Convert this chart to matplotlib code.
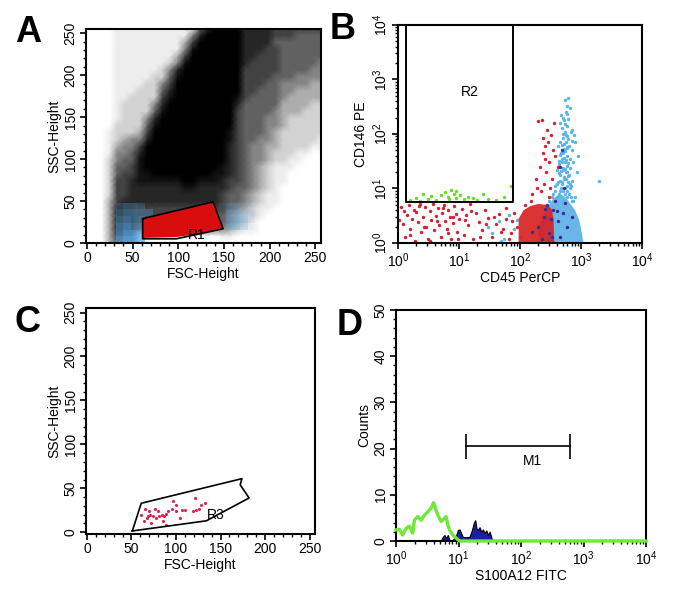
import numpy as np
import matplotlib.pyplot as plt
from matplotlib.colors import ListedColormap, BoundaryNorm, LinearSegmentedColormap
from matplotlib.patches import Polygon
from matplotlib.ticker import MultipleLocator, LogLocator, NullFormatter

plt.rcParams['font.family'] = ['Liberation Sans', 'DejaVu Sans']
plt.rcParams['mathtext.default'] = 'regular'

#%% panel A: FSC/SSC density, 8-channel cells, rows from top (248-256) to bottom (0-8), level 0-9
scatter_rows = [
    "0000 11111111111 5 7 9999 7777 6666666",
    "0000 1111111111 4 7 99999 7777 6665555",
    "0000 111111111 3 6 999999 7777 5555555",
    "0000 111111111 4 8 999999 77766 555555",
    "0000 11111111 3 6 9999999 77666 555555",
    "0000 11111112 4 8 9999999 76666 555554",
    "0000 1111112 4 7 99999999 66666 555544",
    "0000 1111122 5 8 99999999 66665 554444",
    "0000 111122 4 6 999999999 66655 444433",
    "0000 111222 5 7 999999999 66555 443333",
    "0000 112222 6 899999999 8 65555 433333",
    "0000 12222 4 7 999999999 7 55555 333322",
    "0000 12222 5 8 999999999 6 55554 333222",
    "0000 1222 4 7 9999999999 6 55544 322222",
    "0000 2222 5 8 9999999999 6 55544 322222",
    "0001 2223 6 9999999999 8 6 55543 222222",
    "0001 2344 7 9999999999 8 6 55443 222221",
    "0001 344 6 99999999999 7 6 54433 222211",
    "0001 445 7 99999999999 7 6 54432 221100",
    "0002 455 8 99999999999 7 6 54432 211000",
    "0002 556 8 99999999998 7 6 54321 110000",
    "0002 566 88999999998 8 7 6 54321 100000",
    "0002 667 88888899888 7 6 6 54321 100000",
    "0002 667 77777788777 7 6 5 54321 000000",
    "0002 667 77777777777 6 5 5 43211 000000",
    "0003 677 77777777777 6 5 5 43211 000000",
    "0003 777 66666666666 6 5 4 32110 000000",
    "0003 777 66666666665 5 4 3 22100 000000",
    "0003 777 66666666665 5 4 3 21000 000000",
    "0003 777 55555555554 4 3 2 11000 000000",
    "0003 666 00000000000 1 1 0 00000 000000",
    "0003 555 00000000000 0 0 0 00000 000000",
]
# blue events near the bottom, rows y 40-48 down to 0-8
blue_rows = [
    "0000 2332 0000000000 1221 0000000000",
    "0000 3443 3000000000 0332 1000000000",
    "0000 4544 0000000000 0343 1000000000",
    "0000 5655 0000000000 0332 0000000000",
    "0000 5776 0000000000 0000 0000000000",
    "0000 6887 0000000000 0000 0000000000",
]
r1_fill_x = [61, 138, 149, 122, 98, 61]
r1_fill_y = [29, 49, 18, 11, 7, 6]
r1_gate_x = [61, 138, 149, 98, 61, 61]
r1_gate_y = [29, 49, 17, 5, 5, 29]

#%% panel B: CD45 vs CD146
r2_x = [1.35, 1.35, 76, 76]
r2_y = [1e4, 5.6, 5.6, 1e4]
green_x = [1.6, 2.0, 2.3, 2.6, 3.1, 3.5, 4.2, 5.0, 5.8, 6.5, 6.9, 7.5, 8.2, 8.8, 9.0,
           10.5, 12, 14, 17, 20, 25, 30, 40, 55, 70]
green_y = [6.2, 6.8, 6.0, 7.9, 6.5, 7.2, 6.1, 7.5, 8.6, 7.0, 6.3, 9.3, 8.0, 9.0, 6.8,
           7.6, 6.3, 7.0, 6.6, 6.2, 7.8, 6.4, 6.1, 7.0, 11]
red_x = [1.1, 1.2, 1.3, 1.4, 1.5, 1.6, 1.7, 1.8, 1.9, 2.0, 2.1, 2.3, 2.4, 2.6, 2.8, 2.9,
         3.1, 3.3, 3.5, 3.7, 3.9, 4.2, 4.5, 4.7, 5.0, 5.3, 5.6, 5.9, 6.3, 6.7, 7.0, 7.4,
         7.9, 8.3, 8.8, 9.4, 10, 11, 12, 13, 14, 15, 17, 19, 21, 24, 27, 30, 35, 40, 45,
         52, 60, 70, 80, 90,
         1.05, 1.25, 1.6, 2.2, 2.7, 3.4, 4.4, 5.5, 6.5, 8.0, 9.8, 12.5, 16, 22, 28, 38,
         48, 58, 66, 75,
         200, 230, 260, 280, 240, 300, 320, 270, 210, 350, 330, 380, 250, 290, 310, 360,
         180, 420, 150, 120, 160, 220, 260, 300, 190, 240]
red_y = [4.5, 2.2, 1.3, 3.3, 5.0, 1.8, 2.8, 4.1, 1.1, 3.7, 2.4, 5.2, 1.6, 3.0, 4.6, 2.0,
         1.2, 3.8, 2.6, 5.3, 1.7, 3.1, 4.4, 2.1, 1.3, 3.5, 5.0, 2.5, 1.8, 4.0, 3.0, 1.2,
         2.3, 4.8, 3.4, 1.6, 2.8, 4.2, 1.4, 3.2, 2.1, 5.1, 1.2, 3.6, 2.4, 1.7, 4.0, 2.9,
         1.3, 2.2, 3.4, 1.8, 2.7, 1.5, 3.6, 2.0,
         2.6, 3.9, 1.4, 4.8, 2.0, 1.1, 2.5, 4.3, 1.5, 3.0, 1.2, 2.6, 3.8, 1.3, 2.2, 3.0,
         1.6, 4.4, 1.2, 2.5,
         170, 180, 60, 120, 45, 30, 95, 20, 25, 50, 15, 40, 12, 70, 10, 160,
         15, 25, 6, 5, 8, 9, 35, 7, 10, 85]
blue_x = [300, 350, 400, 450, 500, 550, 600, 700, 800, 380, 420, 480, 520, 580, 650,
          460, 500, 560, 620, 700, 440, 480, 540, 600, 660, 470, 520, 580, 640, 700,
          450, 500, 560, 620, 680, 480, 540, 600, 700, 500, 560, 620, 800, 900, 2000,
          750, 850, 540, 580, 460, 420, 400, 650, 720, 615,
          330, 370, 430, 470, 510, 550, 590, 630, 680, 740, 410, 450, 490, 530, 570,
          610, 650, 690, 430, 470, 510, 550, 590, 630, 440, 490, 530, 570, 610, 460,
          510, 550, 590, 480, 520, 560, 600, 500, 540, 580, 520, 470, 600, 660, 760,
          35, 45, 55, 65, 80, 90, 100, 48, 30]
blue_y = [6, 8, 7, 9, 6, 8, 7, 6, 7, 11, 13, 12, 15, 11, 10,
          18, 22, 20, 17, 14, 28, 35, 30, 26, 24, 45, 52, 40, 60, 50,
          70, 85, 95, 80, 110, 130, 150, 140, 120, 200, 250, 190, 70, 40, 14,
          30, 20, 420, 330, 160, 60, 22, 35, 75, 460,
          7, 9, 8, 10, 9, 10, 9, 8, 7, 6, 12, 14, 13, 16, 15,
          13, 12, 11, 19, 21, 24, 23, 20, 18, 32, 30, 36, 34, 29, 42,
          45, 48, 55, 62, 66, 70, 58, 100, 110, 90, 180, 220, 230, 300, 95,
          1.5, 2.5, 1.2, 3.2, 1.8, 2.6, 1.3, 1.1, 2.0]
navy_x = [200, 250, 300, 350, 420, 500, 600, 280, 450, 380, 520, 450, 480, 700, 160,
          230, 320, 260, 400, 550, 340]
navy_y = [2, 3, 1.5, 4, 2.5, 3.5, 2, 5, 1.3, 6, 10, 25, 50, 3, 1.6,
          1.2, 2.8, 4.2, 3.8, 5.5, 1.3]
red_core_x = [95, 95, 115, 150, 200, 280, 330, 355, 365]
red_core_y = [1.0, 2.8, 4.0, 4.8, 5.2, 5.0, 4.2, 2.8, 1.0]
blue_core_x = [200, 200, 250, 300, 350, 450, 550, 650, 800, 950, 1100]
blue_core_y = [1.0, 2.0, 3.5, 5.0, 6.5, 8.0, 7.0, 5.5, 4.0, 2.5, 1.0]

#%% panel C: R3 gated events
r3_x = [51, 61, 174, 172, 182, 134, 51]
r3_y = [1.5, 33, 61, 54, 39, 13, 1.5]
c_x = [61, 64, 67, 69, 71, 74, 76, 78, 81, 84, 85, 87, 89, 91, 95, 97, 100, 104, 107,
       110, 121, 123, 126, 128, 132, 65, 72, 80, 89, 70, 100, 119]
c_y = [20, 13, 16, 18, 20, 18, 27, 16, 19, 20, 13, 18, 21, 24, 27, 35, 24, 16, 25,
       25, 39, 25, 27, 31, 33, 27, 10, 24, 8, 24, 31, 24]

#%% panel D: S100A12 histogram
green_hx = [1.0, 1.13, 1.28, 1.45, 1.64, 1.85, 1.97, 2.23, 2.52, 2.85, 3.22, 3.64, 4.0,
            4.37, 4.66, 5.27, 5.96, 6.32, 6.73, 7.17, 8.1, 9.2, 10.4, 1e4]
green_hc = [2.4, 2.5, 1.3, 2.7, 3.2, 1.7, 4.5, 5.3, 4.5, 5.6, 6.3, 7.1, 8.3,
            6.7, 5.6, 4.2, 4.9, 5.3, 3.5, 2.4, 1.3, 0.6, 0.0, 0.0]
blue_hx = [5.0, 5.27, 5.6, 5.96, 6.33, 6.73, 7.17, 8.1, 9.2, 9.76, 10.4, 11.0, 11.7, 13.3,
           15.0, 16.4, 17.6, 18.5, 19.4, 20.4, 21.7, 23.1, 24.6, 26.1, 27.8, 29.5, 31.4,
           33.4, 34.3]
blue_hc = [0.0, 0.2, 0.9, 1.3, 0.6, 1.3, 0.2, 0.2, 1.3, 2.4, 2.5, 1.7, 0.9, 0.8,
           0.9, 2.4, 4.0, 4.5, 2.7, 2.4, 3.0, 2.0, 2.5, 1.7, 2.3, 1.3, 2.0,
           0.9, 0.0]
m1_x = [13.3, 603]
m1_y = 20.5

#%%
fig = plt.figure(figsize=(6.75, 5.96), dpi=100)
axA = fig.add_axes([0.1274, 0.5923, 0.348, 0.359])
axB = fig.add_axes([0.5896, 0.5923, 0.3615, 0.3658])
axC = fig.add_axes([0.1274, 0.104, 0.3393, 0.379])
axD = fig.add_axes([0.5867, 0.0923, 0.3704, 0.3876])

def parse(rows):
    return np.array([[int(c) for c in r.replace(' ', '')] for r in rows])[::-1]

dens = parse(scatter_rows)
levels = [0, .07, .18, .32, .48, .62, .74, .85, .93, 1.0]
grey = LinearSegmentedColormap.from_list(
    'dots', [(i / 9, (1 - v, 1 - v, 1 - v)) for i, v in enumerate(levels)])
cells = np.linspace(0, 256, dens.shape[1])
axA.pcolormesh(cells, cells, dens, cmap=grey, vmin=0, vmax=9, shading='gouraud')
bl = parse(blue_rows)
norm10 = BoundaryNorm(np.arange(-0.5, 10), 10)
edges = np.arange(0, 257, 8)
bluecm = ListedColormap([(0.33, 0.65, 0.9, a) for a in np.linspace(0, 0.95, 10)])
axA.pcolormesh(edges, edges[:bl.shape[0] + 1], bl, cmap=bluecm, norm=norm10,
               edgecolors='none', antialiased=False)
axA.add_patch(Polygon(np.column_stack([r1_fill_x, r1_fill_y]), closed=True,
                      facecolor='#d90d0d', edgecolor='none'))
axA.plot(r1_gate_x, r1_gate_y, color='k', lw=1.2)
axA.text(120, 10, 'R1', fontsize=10, ha='center', va='center')

def lin_axes(ax, ymin):
    ax.set_xlim(-1, 256)
    ax.set_ylim(ymin, 255)
    ax.set_xticks(np.arange(0, 251, 50))
    ax.set_yticks(np.arange(0, 251, 50))
    ax.xaxis.set_minor_locator(MultipleLocator(10))
    ax.yaxis.set_minor_locator(MultipleLocator(10))
    ax.set_xlabel('FSC-Height', fontsize=10, labelpad=1)
    ax.set_ylabel('SSC-Height', fontsize=10, labelpad=2)

def log_x(ax):
    ax.set_xscale('log')
    ax.set_xlim(1, 1e4)
    ax.xaxis.set_major_locator(LogLocator(base=10, numticks=10))
    ax.xaxis.set_minor_locator(LogLocator(base=10, subs=np.arange(2, 10), numticks=10))
    ax.xaxis.set_minor_formatter(NullFormatter())

lin_axes(axA, 0)

# B
axB.add_patch(Polygon(np.column_stack([blue_core_x, blue_core_y]), closed=True,
                      facecolor='#5aaee6', edgecolor='none', alpha=0.9))
axB.scatter(blue_x, blue_y, s=6, color='#5ab4ea', linewidths=0)
axB.add_patch(Polygon(np.column_stack([red_core_x, red_core_y]), closed=True,
                      facecolor='#d81e1e', edgecolor='none', alpha=0.9))
axB.scatter(red_x, red_y, s=6, color='#d42030', linewidths=0)
axB.scatter(navy_x, navy_y, s=6, color='#3a2a9a', linewidths=0)
axB.scatter(green_x, green_y, s=6, color='#66dd22', linewidths=0)
axB.plot(r2_x, r2_y, color='k', lw=1.4)
axB.text(15, 600, 'R2', fontsize=10, ha='center', va='center')
log_x(axB)
axB.set_yscale('log')
axB.set_ylim(1, 1e4)
axB.yaxis.set_major_locator(LogLocator(base=10, numticks=10))
axB.yaxis.set_minor_locator(LogLocator(base=10, subs=np.arange(2, 10), numticks=10))
axB.yaxis.set_minor_formatter(NullFormatter())
axB.set_xlabel('CD45 PerCP', fontsize=10, labelpad=1)
axB.set_ylabel('CD146 PE', fontsize=10, labelpad=2)

# C
axC.plot(r3_x, r3_y, color='k', lw=1.2)
axC.scatter(c_x, c_y, s=5, color='#e02050', linewidths=0)
axC.text(145, 20, 'R3', fontsize=10, ha='center', va='center')
lin_axes(axC, -2)

# D
axD.fill_between(blue_hx, blue_hc, 0, facecolor='#1e1ea0', edgecolor='k', lw=0.8)
axD.plot(green_hx, green_hc, color='#6ee83a', lw=2.4, clip_on=False, zorder=4)
axD.plot(m1_x, [m1_y, m1_y], color='k', lw=1.2)
axD.vlines(m1_x, m1_y - 2.7, m1_y + 2.7, color='k', lw=1.2)
axD.text(155, 17.4, 'M1', fontsize=10, ha='center', va='center')
log_x(axD)
axD.set_ylim(0, 50)
axD.set_yticks(np.arange(0, 51, 10))
axD.yaxis.set_minor_locator(MultipleLocator(2))
axD.set_xlabel('S100A12 FITC', fontsize=10, labelpad=1)
axD.set_ylabel('Counts', fontsize=10, labelpad=2)

for ax in (axA, axB, axC, axD):
    for sp in ax.spines.values():
        sp.set_linewidth(1.5)
    ax.tick_params(which='major', direction='out', length=4, width=1.2,
                   labelsize=10, pad=2)
    ax.tick_params(which='minor', direction='out', length=2.5, width=1)
    ax.tick_params(axis='y', labelrotation=90)
    for lab in ax.get_yticklabels():
        lab.set_va('center')

for letter, x, y in [('A', 0.022, 0.93), ('B', 0.489, 0.935),
                     ('C', 0.022, 0.443), ('D', 0.499, 0.438)]:
    fig.text(x, y, letter, fontsize=26, fontweight='bold', ha='left', va='baseline')

fig.savefig('out.png', dpi=100)
